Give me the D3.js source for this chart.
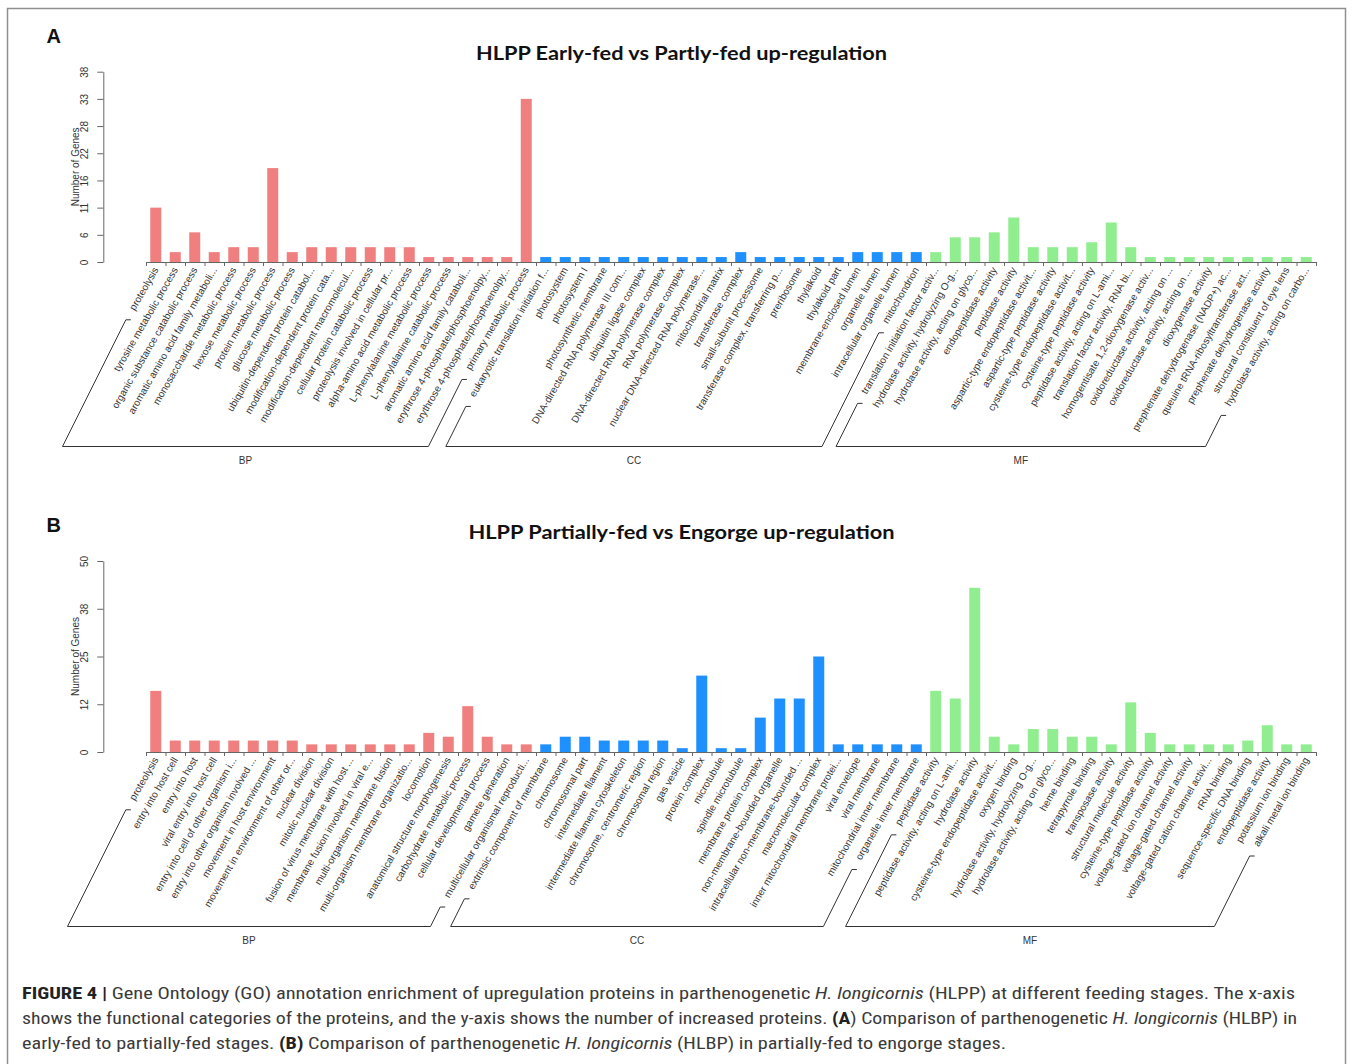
<!DOCTYPE html>
<html>
<head>
<meta charset="utf-8">
<script src="https://cdn.jsdelivr.net/npm/d3@7"></script>
<style>
  body { margin: 0; background: #fff; }
  svg { display: block; }
</style>
</head>
<body>
<svg id="fig" width="1357" height="1064"></svg>
<script>
// ---- Panel A: Early-fed vs Partly-fed ----
const aBpTerms = ["proteolysis", "tyrosine metabolic process", "organic substance catabolic process",
  "aromatic amino acid family metaboli...", "monosaccharide metabolic process", "hexose metabolic process",
  "protein metabolic process", "glucose metabolic process", "ubiquitin-dependent protein catabol...",
  "modification-dependent protein cata...", "modification-dependent macromolecul...",
  "cellular protein catabolic process", "proteolysis involved in cellular pr...",
  "alpha-amino acid metabolic process", "L-phenylalanine metabolic process",
  "L-phenylalanine catabolic process", "aromatic amino acid family cataboli...",
  "erythrose 4-phosphate/phosphoenolpy...", "erythrose 4-phosphate/phosphoenolpy...",
  "primary metabolic process"];
const aBpCounts = [11, 2, 6, 2, 3, 3, 19, 2, 3, 3, 3, 3, 3, 3, 1, 1, 1, 1, 1, 33];

const aCcTerms = ["eukaryotic translation initiation f...", "photosystem", "photosystem I",
  "photosynthetic membrane", "DNA-directed RNA polymerase III com...", "ubiquitin ligase complex",
  "DNA-directed RNA polymerase complex", "RNA polymerase complex", "nuclear DNA-directed RNA polymerase...",
  "mitochondrial matrix", "transferase complex", "small-subunit processome",
  "transferase complex, transferring p...", "preribosome", "thylakoid", "thylakoid part",
  "membrane-enclosed lumen", "organelle lumen", "intracellular organelle lumen", "mitochondrion"];
const aCcCounts = [1, 1, 1, 1, 1, 1, 1, 1, 1, 1, 2, 1, 1, 1, 1, 1, 2, 2, 2, 2];

const aMfTerms = ["translation initiation factor activ...", "hydrolase activity, hydrolyzing O-g...",
  "hydrolase activity, acting on glyco...", "endopeptidase activity", "peptidase activity",
  "aspartic-type endopeptidase activit...", "aspartic-type peptidase activity",
  "cysteine-type endopeptidase activit...", "cysteine-type peptidase activity",
  "peptidase activity, acting on L-ami...", "translation factor activity, RNA bi...",
  "homogentisate 1,2-dioxygenase activ...", "oxidoreductase activity, acting on ...",
  "oxidoreductase activity, acting on ...", "dioxygenase activity",
  "prephenate dehydrogenase (NADP+) ac...", "queuine tRNA-ribosyltransferase act...",
  "prephenate dehydrogenase activity", "structural constituent of eye lens",
  "hydrolase activity, acting on carbo..."];
const aMfCounts = [2, 5, 5, 6, 9, 3, 3, 3, 4, 8, 3, 1, 1, 1, 1, 1, 1, 1, 1, 1];

const aTickValues = [0, 5.5, 11, 16.5, 22, 27.5, 33, 38.5];
const aTickLabels = ["0", "6", "11", "16", "22", "28", "33", "38"];

// ---- Panel B: Partially-fed vs Engorge ----
const bBpTerms = ["proteolysis", "entry into host cell", "entry into host", "viral entry into host cell",
  "entry into cell of other organism i...", "entry into other organism involved ...",
  "movement in host environment", "movement in environment of other or...", "nuclear division",
  "mitotic nuclear division", "fusion of virus membrane with host ...",
  "membrane fusion involved in viral e...", "multi-organism membrane fusion",
  "multi-organism membrane organizatio...", "locomotion", "anatomical structure morphogenesis",
  "carbohydrate metabolic process", "cellular developmental process", "gamete generation",
  "multicellular organismal reproducti..."];
const bBpCounts = [16, 3, 3, 3, 3, 3, 3, 3, 2, 2, 2, 2, 2, 2, 5, 4, 12, 4, 2, 2];

const bCcTerms = ["extrinsic component of membrane", "chromosome", "chromosomal part",
  "intermediate filament", "intermediate filament cytoskeleton", "chromosome, centromeric region",
  "chromosomal region", "gas vesicle", "protein complex", "microtubule", "spindle microtubule",
  "membrane protein complex", "non-membrane-bounded organelle", "intracellular non-membrane-bounded ...",
  "macromolecular complex", "inner mitochondrial membrane protei...", "viral envelope",
  "viral membrane", "mitochondrial inner membrane", "organelle inner membrane"];
const bCcCounts = [2, 4, 4, 3, 3, 3, 3, 1, 20, 1, 1, 9, 14, 14, 25, 2, 2, 2, 2, 2];

const bMfTerms = ["peptidase activity", "peptidase activity, acting on L-ami...", "hydrolase activity",
  "cysteine-type endopeptidase activit...", "oxygen binding", "hydrolase activity, hydrolyzing O-g...",
  "hydrolase activity, acting on glyco...", "heme binding", "tetrapyrrole binding",
  "transposase activity", "structural molecule activity", "cysteine-type peptidase activity",
  "voltage-gated ion channel activity", "voltage-gated channel activity",
  "voltage-gated cation channel activi...", "rRNA binding", "sequence-specific DNA binding",
  "endopeptidase activity", "potassium ion binding", "alkali metal ion binding"];
const bMfCounts = [16, 14, 43, 4, 2, 6, 6, 4, 4, 2, 13, 5, 2, 2, 2, 2, 3, 7, 2, 2];

const bTickValues = [0, 12.5, 25, 37.5, 50];
const bTickLabels = ["0", "12", "25", "38", "50"];

const ontologyColors = { BP: "#F08080", CC: "#1E90FF", MF: "#90EE90" };

const svg = d3.select("#fig");
const labelFont = "'Liberation Sans', Arial, Helvetica, sans-serif";

// outer frame
svg.append("rect")
  .attr("x", 7.5).attr("y", 8.5).attr("width", 1338).attr("height", 1080)
  .attr("fill", "none").attr("stroke", "#8f8f8f").attr("stroke-width", 1.5);

function drawPanel(cfg) {
  const g = svg.append("g");
  const rows = [];
  cfg.groups.forEach(gr => gr.terms.forEach((t, i) =>
    rows.push({ ont: gr.name, term: t, count: gr.counts[i], key: gr.name + "-" + i })));

  const x = d3.scaleBand().domain(rows.map(r => r.key))
    .range([146, 1316]).paddingInner(0.436).paddingOuter(0.218);
  const y = d3.scaleLinear().domain([0, cfg.yMax]).range([cfg.base, cfg.top]);

  // title + panel letter
  g.append("text")
    .attr("x", 681.5).attr("y", cfg.titleY)
    .attr("text-anchor", "middle")
    .attr("font-family", "Lato, 'Open Sans', sans-serif")
    .attr("font-weight", "bold").attr("font-size", 19.5)
    .attr("textLength", cfg.titleWidth).attr("lengthAdjust", "spacingAndGlyphs")
    .attr("fill", "#111")
    .text(cfg.title);
  g.append("text")
    .attr("x", 46.5).attr("y", cfg.letterY)
    .attr("font-family", labelFont).attr("font-weight", "bold").attr("font-size", 20)
    .attr("fill", "#111")
    .text(cfg.letter);

  // bars
  g.append("g").selectAll("rect").data(rows).join("rect")
    .attr("x", d => x(d.key))
    .attr("width", x.bandwidth())
    .attr("y", d => y(d.count))
    .attr("height", d => y(0) - y(d.count))
    .attr("fill", d => ontologyColors[d.ont]);

  // y axis
  const yAxis = g.append("g")
    .attr("transform", "translate(103.3,0)")
    .call(d3.axisLeft(y).tickValues(cfg.tickValues)
      .tickFormat((d, i) => cfg.tickLabels[i]).tickSize(6).tickSizeOuter(0));
  yAxis.select(".domain").attr("stroke", "#666");
  yAxis.selectAll(".tick line").attr("stroke", "#666");
  yAxis.selectAll(".tick text")
    .attr("x", 0).attr("y", -15).attr("dy", 0)
    .attr("transform", "rotate(-90)")
    .attr("text-anchor", "middle")
    .attr("font-family", labelFont).attr("font-size", 10).attr("fill", "#333");

  g.append("text")
    .attr("transform", `translate(78.5,${(cfg.base + cfg.top) / 2}) rotate(-90)`)
    .attr("text-anchor", "middle")
    .attr("font-family", labelFont).attr("font-size", 10).attr("fill", "#333")
    .text("Number of Genes");

  // x axis: line with ticks between bars
  const slots = d3.scaleLinear().domain([0, rows.length]).range([146, 1316]);
  const xAxis = g.append("g")
    .attr("transform", `translate(0,${cfg.base})`)
    .call(d3.axisBottom(slots).tickValues(d3.range(rows.length + 1))
      .tickFormat("").tickSize(4).tickSizeOuter(0));
  xAxis.select(".domain").attr("stroke", "#666");
  xAxis.selectAll(".tick line").attr("stroke", "#666");

  // rotated term labels
  const ang = 60 * Math.PI / 180;
  const ux = Math.cos(ang), uy = -Math.sin(ang);
  const labelY = cfg.base + 6;
  const labels = g.append("g").selectAll("text").data(rows).join("text")
    .attr("transform", d => `translate(${x(d.key) + x.bandwidth() / 2},${labelY}) rotate(-60)`)
    .attr("text-anchor", "end").attr("dy", "0.35em")
    .attr("font-family", labelFont).attr("font-size", 10).attr("fill", "#333")
    .text(d => d.term);

  // group brackets: diagonals from first/last label down to a shared baseline
  const nodes = labels.nodes();
  let idx = 0;
  cfg.groups.forEach(gr => {
    const first = idx, last = idx + gr.terms.length - 1;
    idx += gr.terms.length;
    const topPoint = i => {
      const r = rows[i];
      const ax = x(r.key) + x.bandwidth() / 2;
      const len = nodes[i].getComputedTextLength() + 12;
      return [ax - len * ux, labelY - len * uy];
    };
    const p1 = topPoint(first), p2 = topPoint(last);
    const yb = cfg.bracketY;
    const b1 = p1[0] - (yb - p1[1]) / 2;
    const b2 = p2[0] - (yb - p2[1]) / 2;
    const path = d3.path();
    path.moveTo(p1[0] + 5, p1[1]);
    path.lineTo(p1[0], p1[1]);
    path.lineTo(b1, yb);
    path.lineTo(b2, yb);
    path.lineTo(p2[0], p2[1]);
    path.lineTo(p2[0] + 5, p2[1]);
    g.append("path").attr("d", path.toString())
      .attr("fill", "none").attr("stroke", "#333").attr("stroke-width", 1);
    g.append("text")
      .attr("x", (b1 + b2) / 2).attr("y", yb + 17)
      .attr("text-anchor", "middle")
      .attr("font-family", labelFont).attr("font-size", 10).attr("fill", "#333")
      .text(gr.name);
  });
}

drawPanel({
  letter: "A", letterY: 43,
  title: "HLPP Early-fed vs Partly-fed up-regulation", titleY: 60, titleWidth: 411,
  top: 71.7, base: 262, yMax: 38.5, bracketY: 446.5,
  tickValues: aTickValues, tickLabels: aTickLabels,
  groups: [
    { name: "BP", terms: aBpTerms, counts: aBpCounts },
    { name: "CC", terms: aCcTerms, counts: aCcCounts },
    { name: "MF", terms: aMfTerms, counts: aMfCounts }
  ]
});

drawPanel({
  letter: "B", letterY: 532,
  title: "HLPP Partially-fed vs Engorge up-regulation", titleY: 539, titleWidth: 426,
  top: 561, base: 752, yMax: 50, bracketY: 926.5,
  tickValues: bTickValues, tickLabels: bTickLabels,
  groups: [
    { name: "BP", terms: bBpTerms, counts: bBpCounts },
    { name: "CC", terms: bCcTerms, counts: bCcCounts },
    { name: "MF", terms: bMfTerms, counts: bMfCounts }
  ]
});

// ---- caption ----
const captionLines = [
  { y: 999, width: 1273, parts: [
    ["b", "FIGURE 4 | "], ["n", "Gene Ontology (GO) annotation enrichment of upregulation proteins in parthenogenetic "],
    ["i", "H. longicornis"], ["n", " (HLPP) at different feeding stages. The x-axis"]] },
  { y: 1024, width: 1275, parts: [
    ["n", "shows the functional categories of the proteins, and the y-axis shows the number of increased proteins. "],
    ["b", "(A"], ["n", ") Comparison of parthenogenetic "], ["i", "H. longicornis"], ["n", " (HLBP) in"]] },
  { y: 1049, width: 984, parts: [
    ["n", "early-fed to partially-fed stages. "], ["b", "(B)"], ["n", " Comparison of parthenogenetic "],
    ["i", "H. longicornis"], ["n", " (HLBP) in partially-fed to engorge stages."]] }
];
const cap = svg.append("g")
  .attr("font-family", "'Liberation Sans Narrow', 'Roboto Condensed', Roboto, sans-serif")
  .attr("font-size", 17).attr("fill", "#3a3a3a");
captionLines.forEach(line => {
  const t = cap.append("text").attr("x", 22).attr("y", line.y)
    .attr("textLength", line.width).attr("lengthAdjust", "spacingAndGlyphs");
  line.parts.forEach(([style, str]) => {
    const s = t.append("tspan").text(str);
    if (style === "b") s.attr("font-weight", "bold").attr("fill", "#222");
    if (style === "i") s.attr("font-style", "italic");
  });
});
</script>
</body>
</html>
